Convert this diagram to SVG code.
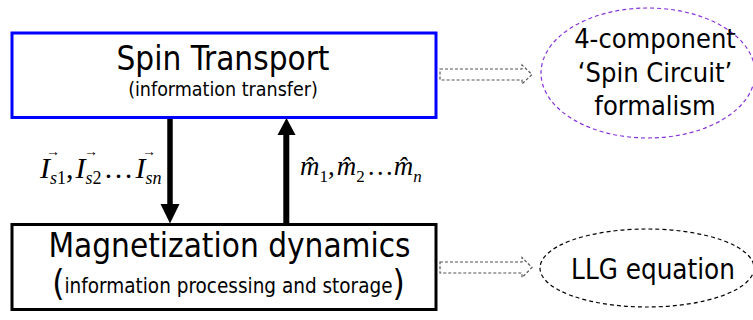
<svg xmlns="http://www.w3.org/2000/svg" width="753" height="320" viewBox="0 0 753 320">
<style>
.sans{font-family:"DejaVu Sans Condensed","DejaVu Sans",sans-serif;fill:#000}
.math{font-family:"Liberation Serif","Times New Roman",serif;font-style:italic;fill:#000}
.mathr{font-family:"Liberation Serif","Times New Roman",serif;fill:#000}
.blk{fill:none;stroke-width:3}
.darr{fill:none;stroke:#555;stroke-width:1.2;stroke-dasharray:3 2}
</style>
<rect width="753" height="320" fill="#fff"/>
<g id="spin-transport">
<rect class="blk" x="12" y="33" width="424" height="84.5" stroke="#0000ff"/>
<text class="sans" x="223" y="70" font-size="33" text-anchor="middle">Spin Transport</text>
<text class="sans" x="223" y="96" font-size="19.5" text-anchor="middle">(information transfer)</text>
</g>
<g id="magnetization">
<rect class="blk" x="12" y="224.5" width="424" height="85" stroke="#000"/>
<text class="sans" x="229.5" y="257" font-size="33" text-anchor="middle">Magnetization dynamics</text>
<text class="sans" x="228.5" y="295" text-anchor="middle"><tspan font-size="35">(</tspan><tspan font-size="20.5" dy="-2">information processing and storage</tspan><tspan font-size="35" dy="2">)</tspan></text>
</g>
<g id="spin-circuit">
<ellipse cx="648" cy="73" rx="107" ry="65" fill="none" stroke="#8833dd" stroke-width="1.2" stroke-dasharray="4 3"/>
<text class="sans" x="655" y="48" font-size="27" text-anchor="middle">4-component</text>
<text class="sans" x="655" y="82" font-size="27" text-anchor="middle">‘Spin Circuit’</text>
<text class="sans" x="655" y="115" font-size="27" text-anchor="middle">formalism</text>
</g>
<g id="llg">
<ellipse cx="647" cy="268" rx="107" ry="39" fill="none" stroke="#000" stroke-width="1.2" stroke-dasharray="4 3"/>
<text class="sans" x="653" y="279" font-size="27.5" text-anchor="middle">LLG equation</text>
</g>
<g id="connectors">
<line x1="170" y1="119" x2="170" y2="205" stroke="#000" stroke-width="5.5"/>
<polygon points="160.5,204 179.5,204 170,223.5" fill="#000"/>
<line x1="286.3" y1="134" x2="286.3" y2="223" stroke="#000" stroke-width="6"/>
<polygon points="277.5,135 295.5,135 286.5,118" fill="#000"/>
<path class="darr" d="M440,69 H522 V65 L532,74.5 L522,84 V80 H440 Z"/>
<path class="darr" d="M440,262 H522 V257.5 L532,267.5 L522,277.5 V273 H440 Z"/>
</g>
<g id="label-currents">
<text class="mathr" x="40" y="178" font-size="30"><tspan class="math">I</tspan><tspan class="math" font-size="18" dy="6">s</tspan><tspan font-size="18">1</tspan><tspan dy="-6">,</tspan><tspan class="math" dx="2">I</tspan><tspan class="math" font-size="18" dy="6">s</tspan><tspan font-size="18">2</tspan><tspan dy="-6" dx="2">…</tspan><tspan class="math" dx="2">I</tspan><tspan class="math" font-size="18" dy="6">sn</tspan></text>
<text class="mathr" x="46" y="156" font-size="14">→</text>
<text class="mathr" x="84" y="156" font-size="14">→</text>
<text class="mathr" x="142" y="156" font-size="14">→</text>
</g>
<g id="label-moments">
<text class="mathr" x="300" y="175" font-size="27"><tspan class="math">m̂</tspan><tspan font-size="17" dy="7">1</tspan><tspan dy="-7">,</tspan><tspan class="math" dx="2">m̂</tspan><tspan font-size="17" dy="7">2</tspan><tspan dy="-7" dx="2">…</tspan><tspan class="math">m̂</tspan><tspan class="math" font-size="17" dy="7">n</tspan></text>
</g>
</svg>
